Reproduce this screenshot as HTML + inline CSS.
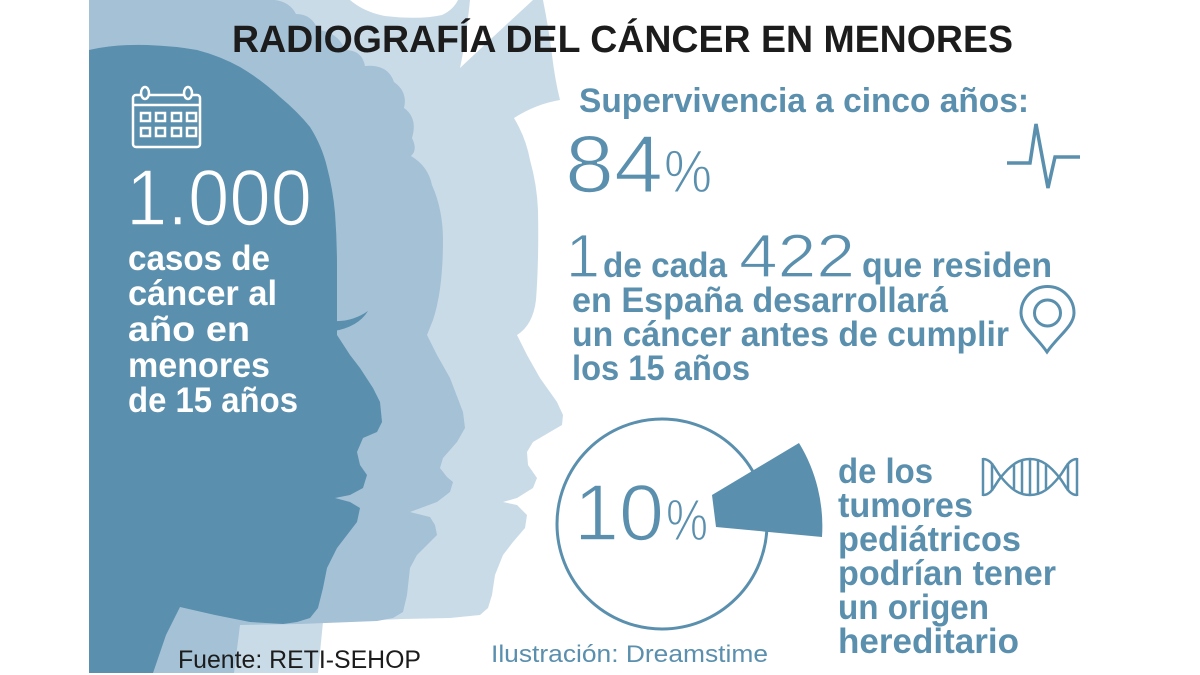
<!DOCTYPE html>
<html>
<head>
<meta charset="utf-8">
<style>
html,body{margin:0;padding:0;background:#fff;}
svg{display:block;}
text{font-family:"Liberation Sans","DejaVu Sans",sans-serif;}
</style>
</head>
<body>
<svg width="1200" height="675" viewBox="0 0 1200 675" xmlns="http://www.w3.org/2000/svg">
  <rect width="1200" height="675" fill="#ffffff"/>

  <!-- lightest silhouette -->
  <path fill="#cadbe8" d="M89,0 L350,0 Q364,12 385,16 Q420,20 442,15 Q453,10 458,0 L470,0 Q466,40 460,68 Q495,35 533,0 L543,0 Q549,30 552,55 Q555,80 560,100 Q536,104 514,118 Q526,138 530,160 Q537,185 538,210 Q539,260 536,300 Q533,325 517,335 L527,355 L540,378 L557,402 L563,415 L562,425 L550,432 L533,442 L527,452 L528,465 L537,478 L533,488 L517,498 L503,502 L517,505 L527,515 L525,528 L513,542 L503,555 L495,575 L492,595 L488,608 L480,615 L450,618 L403,619 L323,622 L318,673 L89,673 Z"/>

  <!-- medium silhouette -->
  <path fill="#a5c1d6" d="M89,0 L275,0 Q290,2 296,14 Q312,14 318,30 Q338,32 345,50 Q362,50 365,66 Q388,64 394,82 Q408,92 404,108 Q418,118 412,138 Q418,150 411,156 Q428,166 432,185 Q443,210 443,240 Q443,290 433,320 L427,335 L437,355 L450,378 L463,412 L465,428 L457,442 L443,458 L440,468 L447,477 L453,482 L450,492 L437,502 L410,512 L430,517 L435,525 L437,535 L427,545 L417,555 L410,568 L407,595 L403,612 L393,618 L377,621 L300,624 L240,625 L234,673 L89,673 Z"/>

  <!-- dark silhouette -->
  <path fill="#5a8fae" d="M89,50 Q115,44 147,45 Q175,46 197,50 Q220,56 240,67 Q262,80 280,97 Q298,112 310,127 Q322,146 327,167 Q333,190 335,213 Q337,240 337,267 L337,310 L337,335 L350,355 L360,368 L373,388 L380,402 L382,422 L377,432 L363,438 L357,452 L360,465 L367,475 L363,488 L350,495 L335,498 L350,502 L360,508 L357,522 L347,535 L337,548 L327,568 L323,588 L318,608 L310,618 L297,622 L283,624 L250,622 L215,615 L180,607 L166,635 L153,673 L89,673 Z"/>
  <!-- eyelash -->
  <path fill="#5a8fae" d="M334,321 Q352,322 368,311 Q358,327 334,331 Z"/>

  <!-- calendar icon -->
  <g fill="none" stroke="#ffffff" stroke-width="2.5">
    <rect x="133" y="95" width="67" height="52" rx="3"/>
    <line x1="133" y1="105" x2="200" y2="105"/>
    <rect x="141" y="113" width="9" height="8"/>
    <rect x="156" y="113" width="9" height="8"/>
    <rect x="172" y="113" width="9" height="8"/>
    <rect x="187" y="113" width="9" height="8"/>
    <rect x="141" y="128" width="9" height="8"/>
    <rect x="156" y="128" width="9" height="8"/>
    <rect x="172" y="128" width="9" height="8"/>
    <rect x="187" y="128" width="9" height="8"/>
  </g>
  <g fill="#5a8fae" stroke="#ffffff" stroke-width="2.5">
    <ellipse cx="145" cy="93" rx="4" ry="6"/>
    <ellipse cx="188" cy="93" rx="4" ry="6"/>
  </g>

  <!-- left white text -->
  <text x="126" y="225" font-size="80" fill="#ffffff" stroke="#5a8fae" stroke-width="1.6" textLength="186" lengthAdjust="spacingAndGlyphs">1.000</text>
  <g fill="#ffffff" font-size="35" font-weight="700">
    <text x="128" y="270" textLength="142" lengthAdjust="spacingAndGlyphs">casos de</text>
    <text x="128" y="305" textLength="149" lengthAdjust="spacingAndGlyphs">cáncer al</text>
    <text x="128" y="341" textLength="122" lengthAdjust="spacingAndGlyphs">año en</text>
    <text x="128" y="377" textLength="142" lengthAdjust="spacingAndGlyphs">menores</text>
    <text x="128" y="412" textLength="170" lengthAdjust="spacingAndGlyphs">de 15 años</text>
  </g>

  <!-- title -->
  <text x="232" y="52" font-size="38" font-weight="700" fill="#1c1c1c" textLength="781" lengthAdjust="spacingAndGlyphs">RADIOGRAFÍA DEL CÁNCER EN MENORES</text>

  <!-- supervivencia -->
  <text x="579" y="112" font-size="34" font-weight="700" fill="#5a8fae" textLength="450" lengthAdjust="spacingAndGlyphs">Supervivencia a cinco años:</text>
  <text x="565" y="192" font-size="82" fill="#5a8fae" stroke="#ffffff" stroke-width="1.6" textLength="98" lengthAdjust="spacingAndGlyphs">84</text>
  <text x="664" y="192" font-size="60" fill="#5a8fae" stroke="#ffffff" stroke-width="1.2" textLength="48" lengthAdjust="spacingAndGlyphs">%</text>
  <polyline points="1007,163 1030,163 1036,124 1048,188 1055,157 1080,157" fill="none" stroke="#5a8fae" stroke-width="3.5" stroke-linejoin="miter"/>

  <!-- 1 de cada 422 -->
  <text x="566" y="277" font-size="61" fill="#5a8fae" stroke="#ffffff" stroke-width="1.2">1</text>
  <text x="603" y="277" font-size="35" font-weight="700" fill="#5a8fae" textLength="124" lengthAdjust="spacingAndGlyphs">de cada</text>
  <text x="739" y="277" font-size="61" fill="#5a8fae" stroke="#ffffff" stroke-width="1.2" textLength="116" lengthAdjust="spacingAndGlyphs">422</text>
  <text x="862" y="277" font-size="35" font-weight="700" fill="#5a8fae" textLength="190" lengthAdjust="spacingAndGlyphs">que residen</text>
  <g font-size="35" font-weight="700" fill="#5a8fae">
    <text x="572" y="312" textLength="376" lengthAdjust="spacingAndGlyphs">en España desarrollará</text>
    <text x="572" y="346" textLength="437" lengthAdjust="spacingAndGlyphs">un cáncer antes de cumplir</text>
    <text x="572" y="380" textLength="178" lengthAdjust="spacingAndGlyphs">los 15 años</text>
  </g>
  <!-- pin icon -->
  <g fill="none" stroke="#5a8fae" stroke-width="3">
    <path d="M1047,352 C1036,336 1021,326 1021,313 A26.5,26.5 0 1 1 1074,313 C1074,326 1058,336 1047,352 Z"/>
    <circle cx="1047.5" cy="313" r="13"/>
  </g>

  <!-- circle + wedge -->
  <circle cx="662" cy="524" r="105" fill="none" stroke="#5a8fae" stroke-width="3"/>
  <path d="M712,495 L799,443 A160,160 0 0 1 822,537 L716,527 Z" fill="#5a8fae"/>
  <text x="574" y="540" font-size="80" fill="#5a8fae" stroke="#ffffff" stroke-width="1.6" textLength="90" lengthAdjust="spacingAndGlyphs">10</text>
  <text x="666" y="540" font-size="58" fill="#5a8fae" stroke="#ffffff" stroke-width="1.2" textLength="42" lengthAdjust="spacingAndGlyphs">%</text>

  <!-- right bottom text -->
  <g font-size="35" font-weight="700" fill="#5a8fae">
    <text x="838" y="483" textLength="95" lengthAdjust="spacingAndGlyphs">de los</text>
    <text x="838" y="517" textLength="135" lengthAdjust="spacingAndGlyphs">tumores</text>
    <text x="838" y="551" textLength="183" lengthAdjust="spacingAndGlyphs">pediátricos</text>
    <text x="838" y="585" textLength="218" lengthAdjust="spacingAndGlyphs">podrían tener</text>
    <text x="838" y="619" textLength="151" lengthAdjust="spacingAndGlyphs">un origen</text>
    <text x="838" y="653" textLength="181" lengthAdjust="spacingAndGlyphs">hereditario</text>
  </g>

  <!-- DNA icon -->
  <g fill="none" stroke="#5a8fae" stroke-width="2.5">
    <path d="M983,459 C992,459 995,470 1001,477 C1010,488 1018,495 1030,495 C1042,495 1050,488 1059,477 C1065,470 1068,459 1077,459"/>
    <path d="M983,495 C992,495 995,484 1001,477 C1010,466 1018,459 1030,459 C1042,459 1050,466 1059,477 C1065,484 1068,495 1077,495"/>
    <line x1="983" y1="458" x2="983" y2="496"/>
    <line x1="1077" y1="458" x2="1077" y2="496"/>
    <line x1="992" y1="463" x2="992" y2="491"/>
    <line x1="1014" y1="465" x2="1014" y2="489"/>
    <line x1="1022" y1="461" x2="1022" y2="493"/>
    <line x1="1030" y1="459" x2="1030" y2="495"/>
    <line x1="1038" y1="461" x2="1038" y2="493"/>
    <line x1="1046" y1="465" x2="1046" y2="489"/>
    <line x1="1068" y1="463" x2="1068" y2="491"/>
  </g>

  <!-- credits -->
  <text x="178" y="668" font-size="25" fill="#1c1c1c" textLength="243" lengthAdjust="spacingAndGlyphs">Fuente: RETI-SEHOP</text>
  <text x="491" y="662" font-size="24" fill="#5a8fae" textLength="277" lengthAdjust="spacingAndGlyphs">Ilustración: Dreamstime</text>
</svg>
</body>
</html>
